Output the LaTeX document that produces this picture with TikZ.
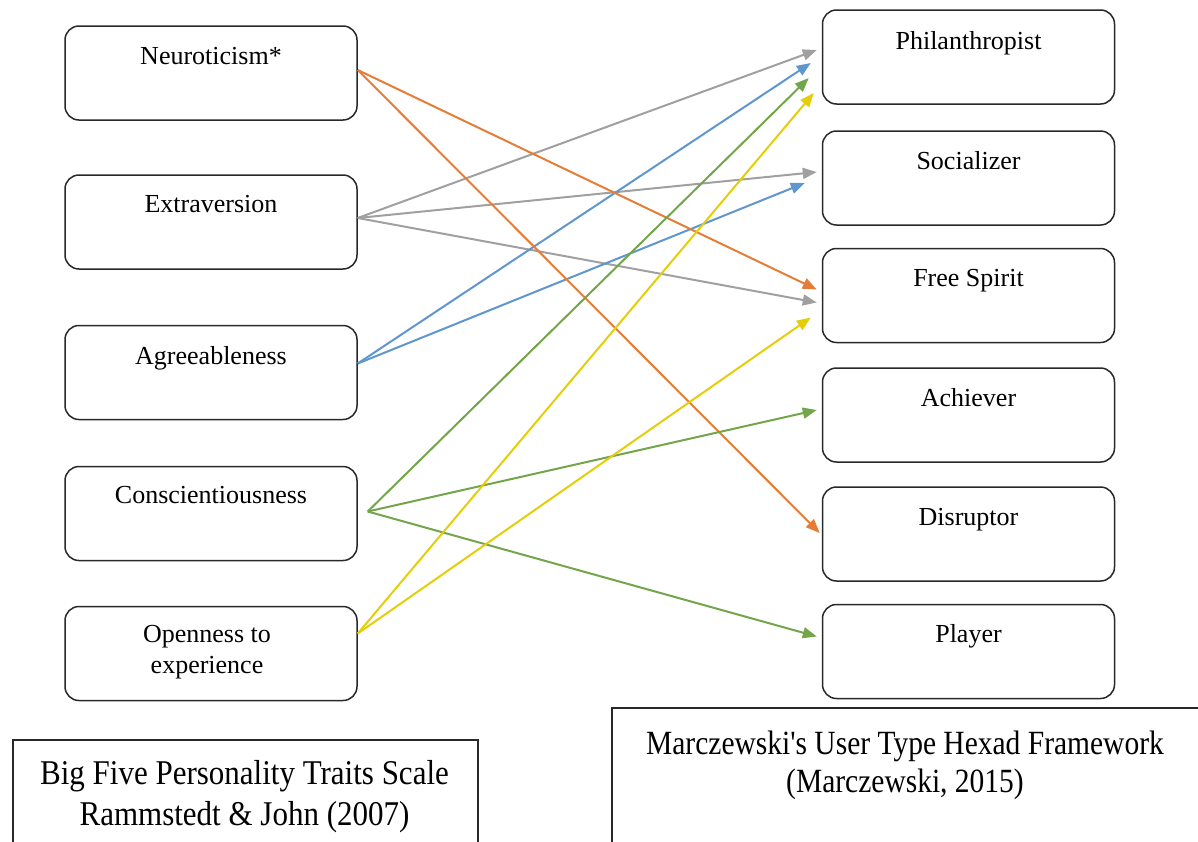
\documentclass[tikz,border=0pt]{standalone}
\usepackage{fontspec}
\setmainfont{Liberation Serif}
\newfontfamily\plainserif{Liberation Serif}[Ligatures=TeXOff]
\usetikzlibrary{arrows.meta}
\definecolor{cOrange}{RGB}{230,125,55}
\definecolor{cGray}{RGB}{160,160,160}
\definecolor{cBlue}{RGB}{95,150,205}
\definecolor{cGreen}{RGB}{115,165,75}
\definecolor{cYellow}{RGB}{228,206,10}
\definecolor{cLine}{RGB}{40,40,40}
\begin{document}
\begin{tikzpicture}[x=1pt,y=-1pt,
  box/.style={draw=cLine, line width=1.5pt, rounded corners=14pt, minimum width=292pt, minimum height=94pt, inner sep=0pt},
  txt/.style={font=\fontsize{26}{31}\selectfont, anchor=base, inner sep=0pt},
  captxt/.style={font=\fontsize{31}{36}\selectfont, anchor=base, inner sep=0pt},
  capbox/.style={draw=cLine, line width=2pt, inner sep=0pt, anchor=north west},
  link/.style={line width=2pt, -{Triangle[length=14pt,width=11pt]}},
]
\useasboundingbox (0,0) rectangle (1198,841);

% left boxes
\node[box] (nN) at (211,73) {};
\node[box] (nE) at (211,222) {};
\node[box] (nA) at (211,372.5) {};
\node[box] (nC) at (211,513.5) {};
\node[box] (nO) at (211,653.5) {};
\node[txt] (tN) at ([yshift=-39pt]nN.north) {Neuroticism*};
\node[txt] (tE) at ([yshift=-38pt]nE.north) {Extraversion};
\node[txt] (tA) at ([yshift=-40pt]nA.north) {Agreeableness};
\node[txt] (tC) at ([yshift=-38pt]nC.north) {Conscientiousness};
\node[txt] (tO1) at ([xshift=-4pt,yshift=-37pt]nO.north) {Openness to};
\node[txt] (tO2) at ([xshift=-4pt,yshift=-68pt]nO.north) {experience};

% right boxes
\node[box] (nP) at (968.5,57) {};
\node[box] (nS) at (968.5,178) {};
\node[box] (nF) at (968.5,295.5) {};
\node[box] (nAc) at (968.5,415) {};
\node[box] (nD) at (968.5,534) {};
\node[box] (nPl) at (968.5,651.5) {};
\node[txt] (tP) at ([yshift=-40pt]nP.north) {Philanthropist};
\node[txt] (tS) at ([yshift=-39pt]nS.north) {Socializer};
\node[txt] (tF) at ([yshift=-39pt]nF.north) {Free Spirit};
\node[txt] (tAc) at ([yshift=-39pt]nAc.north) {Achiever};
\node[txt] (tD) at ([yshift=-39pt]nD.north) {Disruptor};
\node[txt] (tPl) at ([yshift=-39pt]nPl.north) {Player};

% caption boxes
\node[capbox, minimum width=465pt, minimum height=130pt] (bf) at (12,739) {};
\node[captxt] (bf1) at (244.5,784) {\scalebox{1}[1.12]{Big Five Personality Traits Scale}};
\node[captxt] (bf2) at (244.5,825) {\scalebox{1}[1.12]{Rammstedt \& John (2007)}};
\node[capbox, minimum width=600pt, minimum height=160pt] (mh) at (611,707) {};
\node[captxt, font=\plainserif\fontsize{29.5}{34}\selectfont] (mh1) at (905,754) {\scalebox{1}[1.15]{Marczewski's User Type Hexad Framework}};
\node[captxt, font=\plainserif\fontsize{29.5}{34}\selectfont] (mh2) at (905,792) {\scalebox{1}[1.15]{(Marczewski, 2015)}};

% connectors
\draw[link, cGray] ([yshift=4pt]nE.east) -- ([xshift=-5pt,yshift=7pt]nP.west);
\draw[link, cGray] ([yshift=4pt]nE.east) -- ([xshift=-5pt,yshift=6pt]nS.west);
\draw[link, cGray] ([yshift=4pt]nE.east) -- ([xshift=-5pt,yshift=-7pt]nF.west);
\draw[link, cBlue] ([yshift=9pt]nA.east) -- ([xshift=-11pt,yshift=-6pt]nP.west);
\draw[link, cBlue] ([yshift=9pt]nA.east) -- ([xshift=-17pt,yshift=-5pt]nS.west);
\draw[link, cOrange] ([yshift=3pt]nN.east) -- ([xshift=-5pt,yshift=6pt]nF.west);
\draw[link, cOrange] ([yshift=3pt]nN.east) -- ([xshift=-2pt,yshift=1pt]nD.west);
\draw[link, cGreen] ([xshift=10pt,yshift=2pt]nC.east) -- ([xshift=-13pt,yshift=-21pt]nP.west);
\draw[link, cGreen] ([xshift=10pt,yshift=2pt]nC.east) -- ([xshift=-5pt,yshift=5pt]nAc.west);
\draw[link, cGreen] ([xshift=10pt,yshift=2pt]nC.east) -- ([xshift=-5pt,yshift=15pt]nPl.west);
\draw[link, cYellow] ([yshift=20pt]nO.east) -- ([xshift=-8pt,yshift=-36pt]nP.west);
\draw[link, cYellow] ([yshift=20pt]nO.east) -- ([xshift=-11pt,yshift=-22pt]nF.west);
\end{tikzpicture}
\end{document}
